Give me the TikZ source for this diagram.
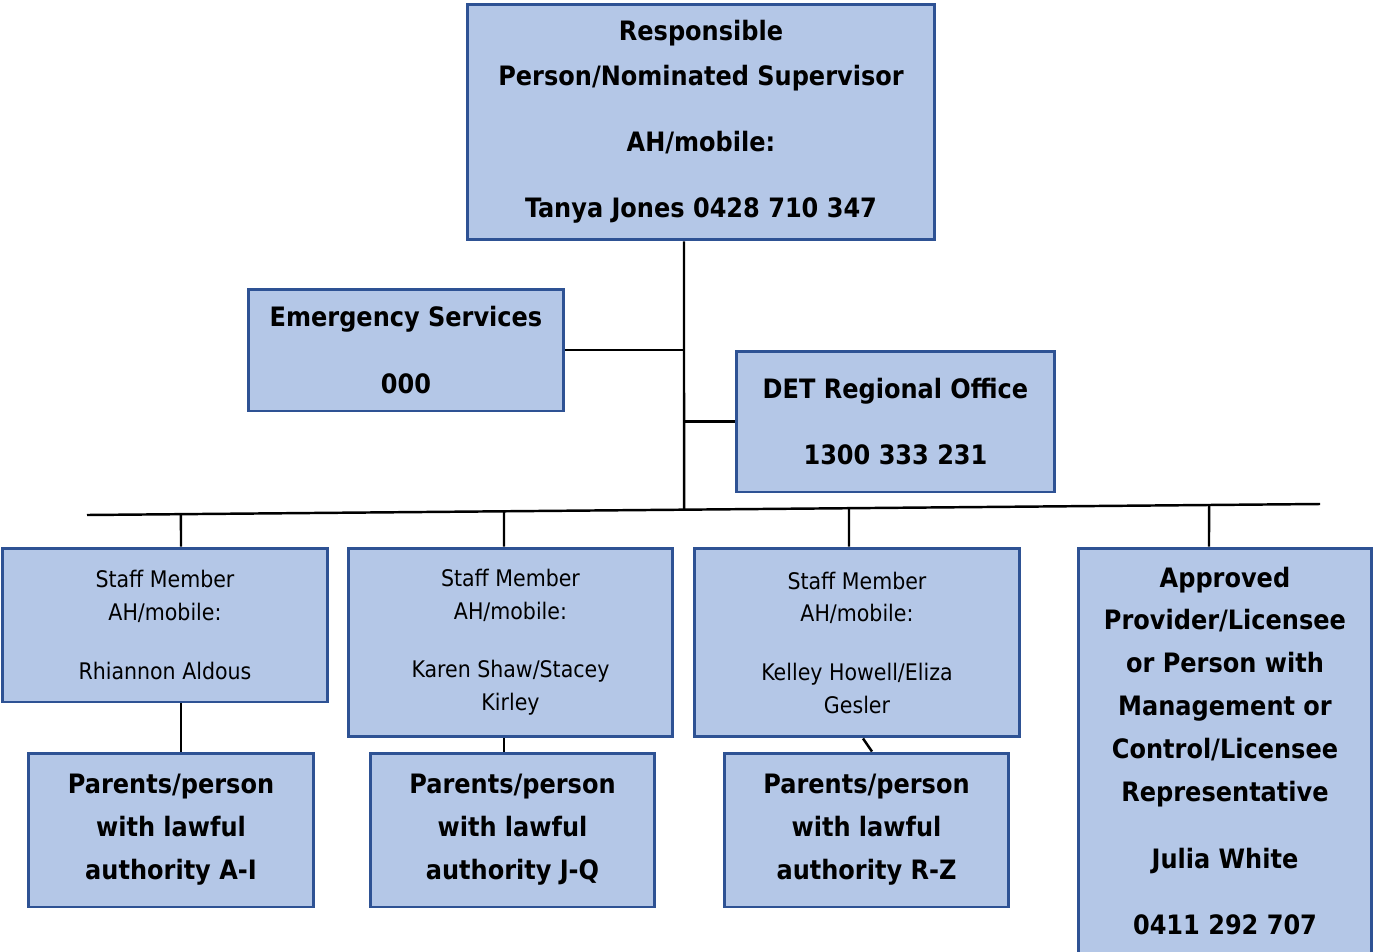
\documentclass[tikz,border=0pt]{standalone}
\usepackage{fontspec}
\setmainfont{DejaVu Sans Condensed}
\usepackage{tikz}
\usetikzlibrary{calc}
\definecolor{boxfill}{HTML}{B4C7E7}
\definecolor{boxline}{HTML}{2E5294}

\begin{document}
\begin{tikzpicture}[x=0.02cm, y=-0.02cm,
  unit/.style={draw=boxline, line width=1.7pt, fill=boxfill, align=center, inner sep=2pt},
  head/.style={unit, font=\bfseries\fontsize{15.2}{25.2}\selectfont},
  staff/.style={unit, font=\fontsize{13}{18.7}\selectfont},
  family/.style={unit, font=\bfseries\fontsize{15.2}{24.4}\selectfont},
  wire/.style={line width=1.4pt, black},
]
  \useasboundingbox (0,0) rectangle (1374,951);

  % --- supervisor and the two outside contacts -----------------------
  \node[head, minimum width=9.36cm, minimum height=4.72cm] (top) at (701,122)
    {Responsible\\ Person/Nominated Supervisor\\[12.5pt] AH/mobile:\\[12.5pt] Tanya Jones 0428 710 347};
  \node[head, minimum width=6.32cm, minimum height=2.44cm] (ems) at (406,350)
    {Emergency Services\\[12.5pt] 000};
  \node[head, minimum width=6.38cm, minimum height=2.82cm] (det) at (895.5,421.5)
    {DET Regional Office\\[12.5pt] 1300 333 231};

  % --- staff row -----------------------------------------------------
  \node[staff, minimum width=6.52cm, minimum height=3.08cm] (staffA) at (165,625)
    {Staff Member\\ AH/mobile:\\[14.5pt] Rhiannon Aldous};
  \node[staff, minimum width=6.5cm, minimum height=3.78cm] (staffB) at (510.5,642.5)
    {Staff Member\\ AH/mobile:\\[14.5pt] Karen Shaw/Stacey\\ Kirley};
  \node[staff, minimum width=6.52cm, minimum height=3.78cm] (staffC) at (857,642.5)
    {Staff Member\\ AH/mobile:\\[14.5pt] Kelley Howell/Eliza\\ Gesler};
  \node[family, minimum width=5.88cm, minimum height=8.12cm] (prov) at (1225,751)
    {Approved\\ Provider/Licensee\\ or Person with\\ Management or\\ Control/Licensee\\ Representative\\[13.6pt] Julia White\\[13.6pt] 0411 292 707};

  % --- parents row ---------------------------------------------------
  \node[family, minimum width=5.72cm, minimum height=3.08cm] (famA) at (171,830)
    {Parents/person\\ with lawful\\ authority A-I};
  \node[family, minimum width=5.7cm, minimum height=3.08cm] (famB) at (512.5,830)
    {Parents/person\\ with lawful\\ authority J-Q};
  \node[family, minimum width=5.7cm, minimum height=3.08cm] (famC) at (866.5,830)
    {Parents/person\\ with lawful\\ authority R-Z};

  % --- connectors ----------------------------------------------------
  \coordinate (barL) at (87,515);
  \coordinate (barR) at (1320,504);
  \coordinate (trunk) at (top.south -| 684,0);
  \draw[wire] (barL) -- (barR);
  \draw[wire] (trunk) -- ($(barL)!0.4842!(barR)$);
  \draw[wire] (ems.east) -- (ems.east -| trunk);
  \draw[wire] (det.west) -- (det.west -| trunk);
  \foreach \n/\x/\f in {staffA/181/0.0762, staffB/504/0.3382, staffC/849/0.6180, prov/1209/0.9100}
    \draw[wire] (\n.north -| \x,0) -- ($(barL)!\f!(barR)$);

  \draw[wire] (staffA.south -| 181,0) -- (famA.north -| 181,0);
  \draw[wire] (staffB.south -| 504,0) -- (famB.north -| 504,0);
  \draw[wire] (staffC.south -| 863,0) -- (famC.north -| 872,0);
\end{tikzpicture}
\end{document}
